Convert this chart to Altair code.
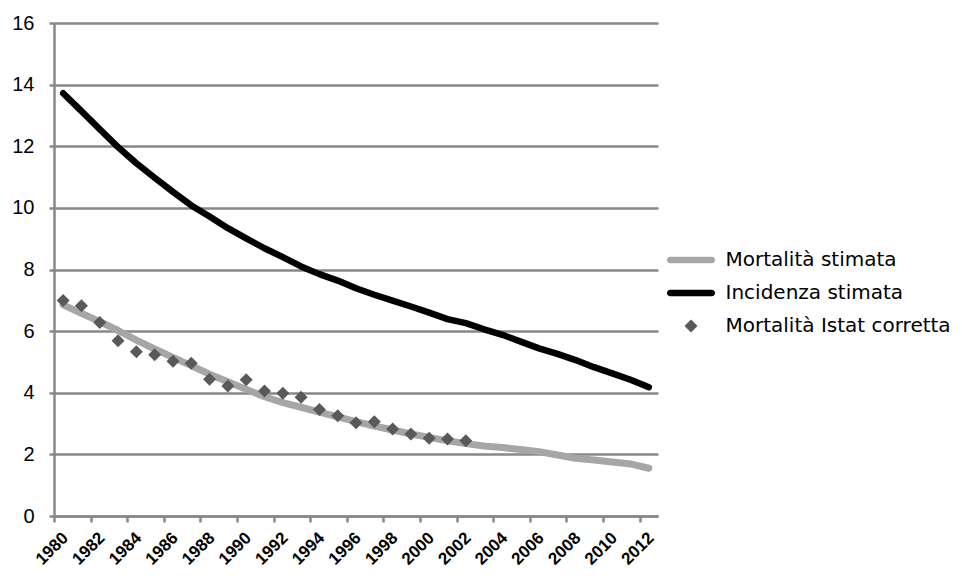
import altair as alt
import pandas as pd

years = list(range(1980, 2013))
incidenza = [13.72, 13.14, 12.55, 11.97, 11.45, 10.98, 10.52, 10.08, 9.72, 9.34,
             9.01, 8.69, 8.40, 8.10, 7.85, 7.64, 7.39, 7.18, 6.99, 6.80,
             6.60, 6.39, 6.26, 6.06, 5.88, 5.66, 5.44, 5.26, 5.06, 4.83,
             4.63, 4.42, 4.18]
mortalita = [6.85, 6.58, 6.31, 6.02, 5.71, 5.42, 5.15, 4.88, 4.60, 4.36,
             4.11, 3.87, 3.68, 3.53, 3.37, 3.22, 3.06, 2.92, 2.79, 2.66,
             2.55, 2.44, 2.35, 2.27, 2.22, 2.16, 2.09, 1.98, 1.87, 1.82,
             1.75, 1.69, 1.55]
istat_years = list(range(1980, 2003))
istat = [6.99, 6.82, 6.28, 5.69, 5.33, 5.23, 5.02, 4.96, 4.44, 4.22,
         4.42, 4.06, 3.98, 3.85, 3.46, 3.25, 3.03, 3.06, 2.82, 2.66,
         2.52, 2.50, 2.44]

names = ["Mortalità stimata", "Incidenza stimata", "Mortalità Istat corretta"]
colors = ["#a6a6a6", "#000000", "#595959"]
x_labels = list(range(1980, 2013, 2))
y_ticks = list(range(0, 17, 2))

line_path = "M-3.2,-0.5H3.2A0.5,0.5 0 0 1 3.2,0.5H-3.2A0.5,0.5 0 0 1 -3.2,-0.5Z"
diamond_path = "M0,-1L1,0L0,1L-1,0Z"

df = pd.concat([
    pd.DataFrame({"anno": years, "valore": mortalita, "serie": names[0]}),
    pd.DataFrame({"anno": years, "valore": incidenza, "serie": names[1]}),
    pd.DataFrame({"anno": istat_years, "valore": istat, "serie": names[2]}),
], ignore_index=True)

GRAY = "#888888"
half_band = 604 / 33 / 2

x_enc = alt.X("anno:Q",
              scale=alt.Scale(domain=[1979.5, 2012.5], nice=False, zero=False),
              axis=alt.Axis(values=x_labels, format="d", title=None, grid=False,
                            labelAngle=-45, labelAlign="right", labelBaseline="middle",
                            labelFontSize=17, labelFontWeight="bold",
                            labelColor="black", labelFont="Liberation Sans",
                            labelOverlap=False, labelPadding=13,
                            tickOffset=-half_band, labelOffset=half_band + 2,
                            domainColor=GRAY, domainWidth=2.5,
                            tickColor=GRAY, tickWidth=2.5, tickSize=6))
y_enc = alt.Y("valore:Q",
              scale=alt.Scale(domain=[0, 16], nice=False, zero=True),
              axis=alt.Axis(values=y_ticks, title=None, grid=True,
                            gridColor=GRAY, gridWidth=2.5,
                            domainColor=GRAY, domainWidth=2.5,
                            tickColor=GRAY, tickWidth=2.5, tickSize=5,
                            labelFontSize=20, labelColor="black",
                            labelFont="Liberation Sans", labelPadding=15))

base = alt.Chart(df).encode(x=x_enc, y=y_enc)

leg = alt.Legend(title=None, orient="none", legendX=627, legendY=227,
                 labelFontSize=20, labelFont="DejaVu Sans", labelColor="black",
                 labelLimit=0,
                 symbolSize=169, symbolStrokeWidth=0, symbolOpacity=1,
                 labelOffset=24.5, rowPadding=13, padding=0)

mort_line = base.transform_filter(alt.datum.serie == names[0]).mark_line(
    color=colors[0], strokeWidth=7, strokeCap="round", strokeJoin="round")
inc_line = base.transform_filter(alt.datum.serie == names[1]).mark_line(
    color=colors[1], strokeWidth=6.5, strokeCap="round", strokeJoin="round")
points = base.transform_filter(alt.datum.serie == names[2]).mark_point(
    filled=True, opacity=1, size=169, strokeWidth=0).encode(
    color=alt.Color("serie:N", scale=alt.Scale(domain=names, range=colors), legend=leg),
    shape=alt.Shape("serie:N", scale=alt.Scale(domain=names, range=[line_path, line_path, diamond_path]), legend=leg),
)

chart = alt.layer(mort_line, inc_line, points).properties(
    width=604, height=493,
    autosize=alt.AutoSizeParams(type="none"),
    padding={"left": 46, "top": 15, "right": 296, "bottom": 52},
).configure_view(stroke=None)

chart.save("out.html", embed_options={"renderer": "svg", "actions": False})
